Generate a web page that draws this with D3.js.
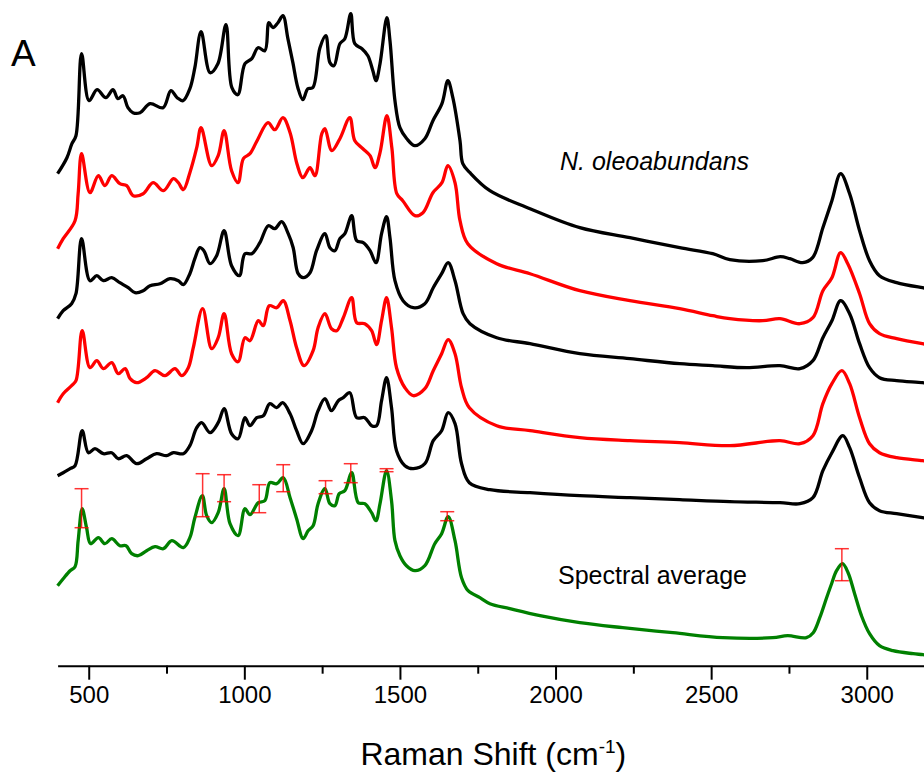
<!DOCTYPE html>
<html>
<head>
<meta charset="utf-8">
<script src="https://cdn.jsdelivr.net/npm/d3@7"></script>
<style>
  body { margin: 0; background: #fff; }
  svg { display: block; font-family: Arial, "Liberation Sans", sans-serif; }
</style>
</head>
<body>
<script>
// Raman spectra, [wavenumber (cm-1), stacked intensity (a.u.)]
const spectrum1 = [[400,492],[430,508],[446,522],[459,530],[477,612],[501,565],[527,576],[555,568],[578,576],[594,567],[610,570],[626,558],[642,553],[665,553],[697,562],[739,558],[764,575],[784,568],[803,565],[825,577],[841,598],[861,634],[890,593],[915,602],[941,641],[960,578],[979,571],[1002,602],[1024,607],[1044,618],[1066,615],[1079,643],[1092,638],[1108,643],[1124,650],[1140,627],[1156,603],[1172,578],[1188,566],[1204,577],[1220,578],[1243,618],[1262,630],[1275,603],[1288,600],[1307,622],[1323,627],[1342,652],[1355,622],[1378,617],[1397,610],[1413,595],[1423,585],[1436,602],[1458,648],[1468,625],[1484,565],[1500,538],[1522,527],[1548,520],[1580,527],[1606,545],[1635,562],[1654,585],[1670,568],[1693,525],[1702,502],[1725,493],[1789,475],[1918,457],[2078,438],[2239,428],[2399,418],[2505,412],[2560,406],[2666,405],[2722,409],[2753,407],[2794,403],[2826,408],[2859,438],[2888,465],[2916,492],[2945,472],[2977,435],[3009,405],[3041,390],[3096,383],[3179,378],[3200,377]];

const spectrum2 = [[400,417],[418,427],[456,445],[466,472],[477,512],[504,473],[531,490],[552,480],[574,490],[600,482],[622,480],[643,470],[675,472],[707,483],[740,475],[772,487],[788,483],[804,476],[825,493],[847,518],[861,538],[895,500],[916,510],[935,535],[959,495],[980,483],[997,507],[1018,512],[1041,525],[1076,543],[1098,536],[1124,548],[1147,533],[1169,502],[1188,488],[1211,498],[1227,490],[1249,532],[1259,537],[1281,515],[1307,527],[1339,548],[1355,525],[1381,517],[1404,510],[1420,498],[1436,513],[1458,550],[1474,518],[1490,472],[1509,465],[1548,450],[1574,453],[1606,473],[1635,483],[1654,500],[1677,483],[1693,445],[1718,422],[1811,402],[1918,392],[2078,375],[2239,365],[2399,357],[2505,350],[2560,347],[2666,345],[2721,347],[2785,342],[2827,348],[2859,375],[2888,388],[2916,413],[2939,402],[2977,372],[3009,342],[3041,332],[3096,327],[3179,322],[3200,321]];

const spectrum3 = [[400,347],[418,355],[445,362],[459,372],[477,427],[504,385],[526,390],[547,385],[574,388],[600,383],[627,378],[649,373],[675,375],[697,380],[729,382],[761,387],[788,385],[804,381],[825,392],[841,407],[857,418],[870,415],[890,402],[911,410],[935,435],[959,400],[984,390],[1002,412],[1024,412],[1050,423],[1077,440],[1098,437],[1120,444],[1141,432],[1157,418],[1173,392],[1189,388],[1211,393],[1232,415],[1259,432],[1275,418],[1291,415],[1307,427],[1323,432],[1345,450],[1361,425],[1382,423],[1404,415],[1423,403],[1441,432],[1457,449],[1468,428],[1484,385],[1510,365],[1543,358],[1580,362],[1607,378],[1634,392],[1655,403],[1677,385],[1703,352],[1725,342],[1811,328],[1918,322],[2078,312],[2239,307],[2399,302],[2505,300],[2614,298],[2721,300],[2785,297],[2827,305],[2859,328],[2888,345],[2916,365],[2945,352],[2977,322],[3009,298],[3041,288],[3096,285],[3179,283],[3200,282]];

const spectrum4 = [[400,263],[418,272],[445,280],[459,285],[479,335],[504,298],[526,305],[547,297],[574,303],[595,292],[617,297],[633,287],[654,283],[686,288],[713,295],[745,290],[777,297],[799,290],[820,298],[836,318],[866,357],[895,317],[916,328],[935,352],[959,312],[980,304],[1002,328],[1018,325],[1045,345],[1061,340],[1080,360],[1104,358],[1125,365],[1147,345],[1168,318],[1192,300],[1221,315],[1237,338],[1259,352],[1280,337],[1297,335],[1318,348],[1345,368],[1361,343],[1387,342],[1409,335],[1425,321],[1441,345],[1457,368],[1473,338],[1489,298],[1516,278],[1543,270],[1580,277],[1607,295],[1634,312],[1655,326],[1677,312],[1698,278],[1723,258],[1811,240],[1918,235],[2078,228],[2239,225],[2399,223],[2560,220],[2721,225],[2785,222],[2827,230],[2859,262],[2888,282],[2920,295],[2945,282],[2977,248],[3009,222],[3041,213],[3096,208],[3179,205],[3200,204]];

const spectrum5 = [[400,190],[418,193],[440,197],[456,200],[479,235],[499,213],[520,217],[547,212],[574,213],[595,207],[622,210],[654,202],[686,207],[718,212],[750,210],[772,213],[804,212],[825,220],[847,238],[863,243],[890,233],[916,243],[935,257],[959,232],[980,227],[1002,248],[1018,240],[1040,248],[1061,250],[1082,262],[1104,258],[1123,263],[1147,252],[1168,235],[1189,222],[1216,235],[1237,255],[1259,267],[1280,255],[1302,265],[1318,268],[1339,273],[1361,248],[1387,248],[1409,240],[1425,240],[1441,265],[1457,288],[1473,258],[1489,215],[1516,200],[1543,197],[1580,202],[1607,225],[1634,235],[1655,253],[1677,242],[1698,202],[1723,183],[1789,176],[1918,173],[2078,170],[2239,168],[2399,166],[2560,164],[2721,163],[2785,162],[2827,168],[2859,195],[2888,213],[2923,230],[2945,218],[2977,188],[3009,163],[3041,155],[3096,152],[3179,148],[3200,147]];

const averageSpectrum = [[400,80],[418,87],[440,95],[456,99],[466,125],[479,157],[493,138],[506,122],[531,128],[552,122],[574,127],[600,120],[620,120],[638,112],[659,110],[686,115],[713,119],[740,117],[767,125],[804,118],[825,128],[841,148],[865,170],[879,150],[895,143],[916,153],[935,177],[954,142],[980,130],[1002,157],[1018,151],[1045,163],[1066,165],[1082,183],[1104,182],[1125,188],[1147,168],[1168,147],[1189,127],[1205,135],[1221,140],[1237,162],[1259,177],[1275,162],[1291,160],[1305,172],[1323,175],[1345,193],[1366,163],[1387,162],[1409,153],[1423,145],[1436,162],[1457,195],[1473,165],[1484,125],[1500,110],[1521,100],[1548,95],[1580,100],[1612,122],[1634,132],[1655,149],[1677,125],[1698,88],[1719,75],[1757,68],[1789,62],[1853,57],[1950,50],[2078,43],[2216,38],[2377,33],[2538,28],[2698,28],[2746,30],[2806,28],[2828,33],[2849,48],[2871,68],[2887,82],[2903,95],[2922,102],[2940,93],[2961,72],[2983,50],[3009,32],[3041,20],[3084,15],[3149,12],[3181,11],[3200,10]];

// error bars on the average: [wavenumber, low, high]
const averageErrors = [[477,138,177],[866,149,192],[935,164,191],[1048,153,181],[1125,174,201],[1261,172,185],[1342,183,202],[1457,194,197],[1652,145,154],[2920,85,117]];

const stackedSeries = [
  { values: spectrum1, color: "#000000" },
  { values: spectrum2, color: "#ff0000" },
  { values: spectrum3, color: "#000000" },
  { values: spectrum4, color: "#ff0000" },
  { values: spectrum5, color: "#000000" },
  { values: averageSpectrum, color: "#008000" }
];

const majorTicks = [500, 1000, 1500, 2000, 2500, 3000];
const minorTicks = [750, 1250, 1750, 2250, 2750];

const width = 924, height = 781;

const svg = d3.select("body").append("svg")
  .attr("width", width)
  .attr("height", height);

const x = d3.scaleLinear().domain([400, 3200]).range([57.6, 929]);
const y = d3.scaleLinear().domain([0, 665]).range([665.7, 0.7]);

const line = d3.line()
  .curve(d3.curveCatmullRom.alpha(0.5))
  .x(d => x(d[0]))
  .y(d => y(d[1]));

// spectra
svg.append("g")
  .selectAll("path")
  .data(stackedSeries)
  .join("path")
  .attr("d", d => line(d.values))
  .attr("fill", "none")
  .attr("stroke", d => d.color)
  .attr("stroke-width", 3.3)
  .attr("stroke-linejoin", "round");

// error bars
const bars = svg.append("g")
  .attr("stroke", "#ff0000")
  .attr("stroke-opacity", 0.8)
  .attr("stroke-width", 1.5);

bars.selectAll(".stem")
  .data(averageErrors)
  .join("line")
  .attr("x1", d => x(d[0])).attr("x2", d => x(d[0]))
  .attr("y1", d => y(d[1])).attr("y2", d => y(d[2]));

bars.selectAll(".cap")
  .data(averageErrors.flatMap(d => [[d[0], d[1]], [d[0], d[2]]]))
  .join("line")
  .attr("x1", d => x(d[0]) - 7).attr("x2", d => x(d[0]) + 7)
  .attr("y1", d => y(d[1])).attr("y2", d => y(d[1]));

// x axis
const axisY = y(0);
const xAxis = svg.append("g")
  .attr("transform", `translate(0,${axisY})`)
  .call(d3.axisBottom(x).tickValues(majorTicks).tickSize(14).tickSizeOuter(0)
    .tickPadding(6).tickFormat(d3.format("d")));

xAxis.select(".domain").attr("stroke-width", 2);
xAxis.selectAll(".tick line").attr("stroke-width", 2);
xAxis.selectAll(".tick text")
  .attr("font-size", 24)
  .attr("font-family", "Arial, 'Liberation Sans', sans-serif")
  .attr("fill", "#000");

svg.append("g")
  .attr("transform", `translate(0,${axisY})`)
  .call(d3.axisBottom(x).tickValues(minorTicks).tickSize(8).tickSizeOuter(0).tickFormat(""))
  .call(g => g.select(".domain").remove())
  .selectAll(".tick line").attr("stroke-width", 2);

// axis title
const title = svg.append("text")
  .attr("x", (x.range()[0] + x.range()[1]) / 2)
  .attr("y", 765)
  .attr("text-anchor", "middle")
  .attr("font-size", 32)
  .attr("fill", "#000");
title.append("tspan").text("Raman Shift (cm");
title.append("tspan").attr("dy", -12).attr("font-size", 19).text("-1");
title.append("tspan").attr("dy", 12).text(")");

// annotations
svg.append("text")
  .attr("x", 11)
  .attr("y", 66)
  .attr("font-size", 37)
  .text("A");

svg.append("text")
  .attr("x", 560)
  .attr("y", 170)
  .attr("font-size", 25)
  .attr("font-style", "italic")
  .text("N. oleoabundans");

svg.append("text")
  .attr("x", 558)
  .attr("y", 584)
  .attr("font-size", 25)
  .text("Spectral average");
</script>
</body>
</html>
